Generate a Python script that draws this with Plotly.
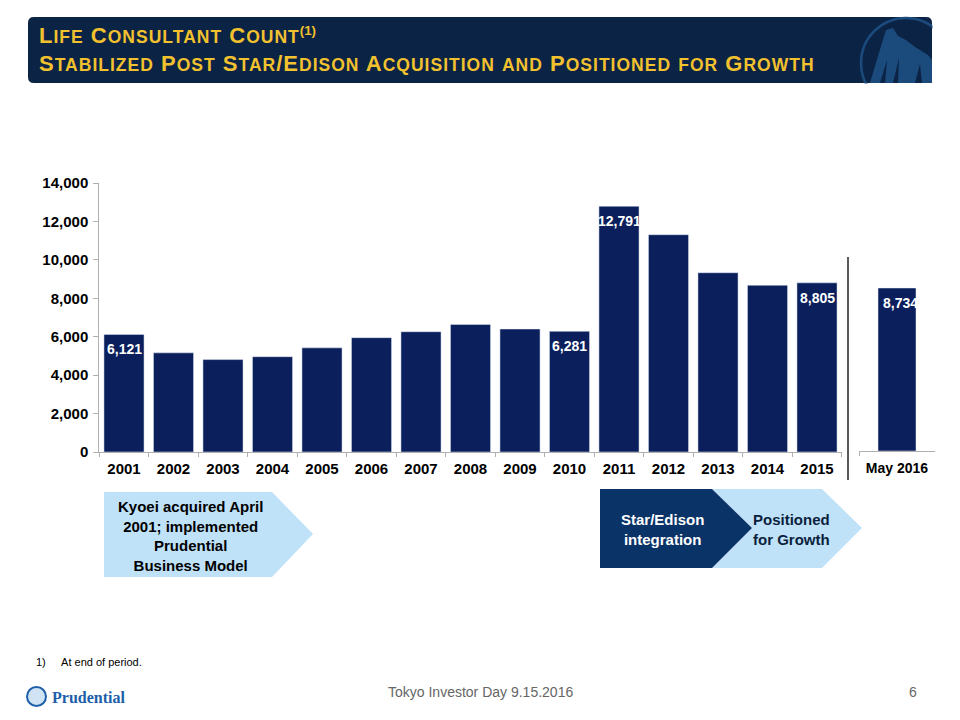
import plotly.graph_objects as go

years = ['2001', '2002', '2003', '2004', '2005', '2006', '2007', '2008',
         '2009', '2010', '2011', '2012', '2013', '2014', '2015']
consultants = [6121, 5160, 4810, 4960, 5420, 5950, 6260, 6640,
               6400, 6281, 12791, 11310, 9330, 8680, 8805]
labelled_years = ['2001', '2010', '2011', '2015']

may_label = ['May 2016']
may_value = [8734]

NAVY = '#0b1f5c'
GOLD = '#f2c12e'
FONT = 'Liberation Sans'
OFF = 8  # the page body adds 8px, so draw everything 8px up and left


def px_x(x):
    return (x - OFF) / 960


def px_y(y):
    return 1 - (y - OFF) / 720


def small_caps(s, big=22, small=17.5):
    # powerpoint style small caps: capitals big, the rest upper case but smaller
    out = ''
    for ch in s:
        if ch.islower():
            out += '<span style="font-size:%spx;letter-spacing:1px">%s</span>' % (small, ch.upper())
        else:
            out += '<span style="font-size:%spx;letter-spacing:1px">%s</span>' % (big, ch)
    return out


def note(x, y, text, size, color, xanchor='center', yanchor='middle', family=FONT, weight='normal'):
    return dict(x=px_x(x), y=px_y(y), xref='paper', yref='paper', xanchor=xanchor,
                yanchor=yanchor, showarrow=False, text=text,
                font=dict(family=family, size=size, color=color, weight=weight))


def poly(points, color, opacity=1):
    path = 'M ' + ' L '.join('%f %f' % (px_x(a), px_y(b)) for a, b in points) + ' Z'
    return dict(type='path', xref='paper', yref='paper', fillcolor=color,
                line_width=0, opacity=opacity, path=path)


fig = go.Figure()

fig.add_trace(go.Bar(x=years, y=consultants, marker_color=NAVY, width=0.81,
                     xaxis='x', yaxis='y', hoverinfo='x+y'))
fig.add_trace(go.Bar(x=may_label, y=may_value, marker_color=NAVY, width=0.5,
                     xaxis='x2', yaxis='y2', hoverinfo='x+y'))

annotations = []
for i, (yr, v) in enumerate(zip(years, consultants)):
    if yr in labelled_years:
        annotations.append(dict(x=i, y=v, xref='x', yref='y', text=f'{v:,}',
                                showarrow=False, xanchor='center', yanchor='top', yshift=-5,
                                font=dict(family=FONT, size=14, color='white', weight='bold')))
annotations.append(dict(x=0, y=may_value[0], xref='x2', yref='y2',
                        text=f'{may_value[0]:,}', showarrow=False, xanchor='center',
                        yanchor='top', yshift=-5, xshift=3,
                        font=dict(family=FONT, size=14, color='white', weight='bold')))

# title banner
line1 = small_caps('Life Consultant Count') + '<span style="font-size:19px"><sup>(1)</sup></span>'
line2 = small_caps('Stabilized Post Star/Edison Acquisition and Positioned for Growth')
annotations.append(note(37, 50, '<b>' + line1 + '</b>', 20, GOLD, 'left', 'bottom'))
annotations.append(note(37, 78, '<b>' + line2 + '</b>', 20, GOLD, 'left', 'bottom'))

# arrow texts
annotations.append(note(190, 536, 'Kyoei acquired April<br>2001; implemented<br>Prudential<br>Business Model',
                        15, 'black', weight='bold'))
annotations.append(note(662, 529, 'Star/Edison<br>integration', 15, 'white', weight='bold'))
annotations.append(note(791, 529, 'Positioned<br>for Growth', 15, '#0b1f3c', weight='bold'))

# footnote and footer
annotations.append(note(34, 662, '1)&nbsp;&nbsp;&nbsp;&nbsp;&nbsp;At end of period.', 11, 'black', 'left'))
annotations.append(note(480, 692, 'Tokyo Investor Day 9.15.2016', 14, '#666666'))
annotations.append(note(913, 692, '6', 14, '#666666'))
annotations.append(note(50, 697, '<b>Prudential</b>', 16, '#1d5fa8', 'left', family='Liberation Serif'))

EMBLEM = '#1b4a7d'
shapes = [
    # banner
    dict(type='path', xref='paper', yref='paper', fillcolor='#0b2345', line_width=0,
         path='M %f %f L %f %f Q %f %f %f %f L %f %f Q %f %f %f %f L %f %f Q %f %f %f %f L %f %f Q %f %f %f %f Z' % (
             px_x(34), px_y(17), px_x(926), px_y(17), px_x(932), px_y(17), px_x(932), px_y(23),
             px_x(932), px_y(77), px_x(932), px_y(83), px_x(926), px_y(83),
             px_x(34), px_y(83), px_x(28), px_y(83), px_x(28), px_y(77),
             px_x(28), px_y(23), px_x(28), px_y(17), px_x(34), px_y(17))),
    # rock emblem in the banner, cut by the banner edge
    dict(type='circle', xref='paper', yref='paper', x0=px_x(861), x1=px_x(951),
         y0=px_y(108), y1=px_y(18), line=dict(color=EMBLEM, width=2.5)),
    poly([(870, 83), (878, 56), (886, 30), (893, 28), (898, 36), (906, 40),
          (915, 47), (928, 55), (932, 60), (932, 83)], EMBLEM),
    poly([(880, 83), (887, 60), (885, 83)], '#0b2345'),
    poly([(893, 83), (899, 58), (898, 83)], '#0b2345'),
    poly([(915, 83), (920, 64), (922, 83)], '#0b2345'),
    dict(type='rect', xref='paper', yref='paper', x0=px_x(932.5), x1=px_x(968),
         y0=px_y(112), y1=px_y(10), fillcolor='white', line_width=0),
    dict(type='rect', xref='paper', yref='paper', x0=px_x(855), x1=px_x(968),
         y0=px_y(112), y1=px_y(83.5), fillcolor='white', line_width=0),
    # separator between the years and may 2016
    dict(type='line', xref='paper', yref='paper', x0=px_x(848), x1=px_x(848),
         y0=px_y(257), y1=px_y(480), line=dict(color='#222222', width=1.5)),
    # left arrow
    poly([(104, 492), (272, 492), (313, 534), (272, 577), (104, 577)], '#bfe2f8'),
    # right chevrons
    poly([(712, 489), (822, 489), (862, 528), (822, 568), (712, 568), (752, 528)], '#bfe2f8'),
    poly([(600, 489), (712, 489), (752, 528), (712, 568), (600, 568)], '#0a3368'),
    # footer logo mark
    dict(type='circle', xref='paper', yref='paper', x0=px_x(27), x1=px_x(46),
         y0=px_y(706), y1=px_y(687), line=dict(color='#1d5fa8', width=2), fillcolor='#cfe3f5'),
]

axis_font = dict(family=FONT, size=15, weight='bold', color='black')

fig.update_layout(
    width=960, height=720,
    margin=dict(l=0, r=0, t=0, b=0),
    paper_bgcolor='white', plot_bgcolor='white',
    showlegend=False,
    font=dict(family=FONT, color='black'),
    xaxis=dict(domain=[px_x(99.25), px_x(841.75)], type='category', range=[-0.5, 14.5],
               showline=True, linecolor='#b0b0b0', linewidth=1, automargin=False,
               ticks='outside', tickson='boundaries', ticklen=4, tickcolor='#b0b0b0',
               ticklabelstandoff=3, tickfont=axis_font, showgrid=False, fixedrange=True),
    yaxis=dict(domain=[px_y(452), px_y(183)], range=[0, 14000], dtick=2000,
               tickformat=',', showline=True, linecolor='#b0b0b0', linewidth=1,
               ticks='outside', ticklen=5, tickcolor='#b0b0b0', showgrid=False,
               ticklabelstandoff=2, zeroline=False, tickfont=axis_font,
               automargin=False, fixedrange=True),
    xaxis2=dict(domain=[px_x(859), px_x(935)], type='category', anchor='y2',
                range=[-0.5, 0.5], showline=True, linecolor='#b0b0b0', linewidth=1,
                ticks='outside', tickson='boundaries', ticklen=4, tickcolor='#b0b0b0',
                ticklabelstandoff=4, tickfont=dict(axis_font, size=14), showgrid=False,
                automargin=False, fixedrange=True),
    yaxis2=dict(domain=[px_y(451), px_y(183)], range=[0, 14360], anchor='x2',
                visible=False, automargin=False, fixedrange=True),
    annotations=annotations,
    shapes=shapes,
)

fig.write_html('out.html')
